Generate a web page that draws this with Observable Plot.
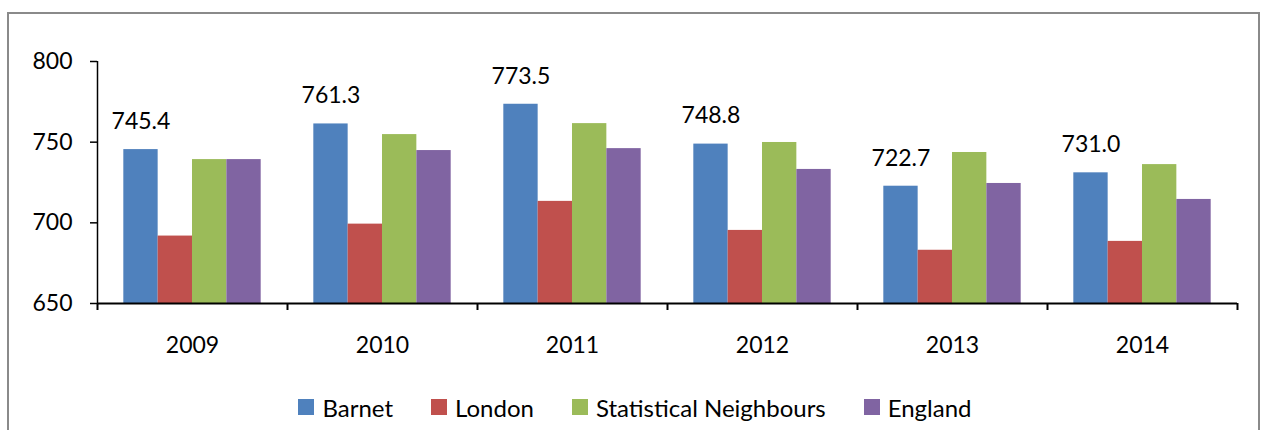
<!DOCTYPE html>
<html>
<head>
<meta charset="utf-8">
<script src="https://cdn.jsdelivr.net/npm/d3@7"></script>
<script src="https://cdn.jsdelivr.net/npm/@observablehq/plot@0.6"></script>
<style>
  html, body { margin: 0; padding: 0; background: #fff; }
  #wrap { position: relative; width: 1264px; height: 430px; overflow: hidden; background: #fff; font-family: Lato, "Open Sans", sans-serif; }
  #frame { position: absolute; left: 7px; top: 12px; width: 1249px; height: 440px; border: 2px solid #8a8a8a; border-bottom: none; }
  #chart { position: absolute; left: 0; top: 0; }
  #legend { position: absolute; top: 393px; left: 0; width: 1264px; display: flex; justify-content: center; gap: 38px; padding-left: 6px; box-sizing: border-box; font-size: 24px; color: #000; }
  .item { display: flex; align-items: center; gap: 8px; height: 28px; }
  .sw { width: 16px; height: 16px; display: inline-block; }
</style>
</head>
<body>
<div id="wrap">
  <div id="frame"></div>
  <div id="chart"></div>
  <div id="legend"></div>
</div>
<script>
const years = ["2009", "2010", "2011", "2012", "2013", "2014"];
const seriesNames = ["Barnet", "London", "Statistical Neighbours", "England"];
const seriesColors = ["#4F81BD", "#C0504D", "#9BBB59", "#8064A2"];
const barnet = [745.4, 761.3, 773.5, 748.8, 722.7, 731.0];
const london = [691.8, 699.2, 713.3, 695.3, 683.0, 688.5];
const statNeighbours = [739.2, 754.7, 761.5, 749.8, 743.6, 736.1];
const england = [739.2, 744.8, 746.0, 733.1, 724.4, 714.5];
const yTicks = [650, 700, 750, 800];

const seriesValues = [barnet, london, statNeighbours, england];
const gap = 0.1385;               // outer gap inside each year slot (fraction)
const w = (1 - 2 * gap) / 4;       // bar width (fraction of year slot)

const data = [];
years.forEach((yr, i) => {
  seriesNames.forEach((s, k) => {
    data.push({year: yr, yi: i, series: s, k, value: seriesValues[k][i]});
  });
});
const barnetData = data.filter(d => d.series === "Barnet");

const plot = Plot.plot({
  width: 1264,
  height: 370,
  marginLeft: 97,
  marginRight: 27,
  marginTop: 61,
  marginBottom: 67,
  style: {fontFamily: "Lato, 'Open Sans', sans-serif", fontSize: "23px", color: "#000", background: "transparent"},
  x: {type: "linear", domain: [0, years.length], axis: null},
  y: {domain: [650, 800], axis: null},
  color: {domain: seriesNames, range: seriesColors},
  marks: [
    Plot.rectY(data, {
      x1: d => d.yi + gap + d.k * w,
      x2: d => d.yi + gap + (d.k + 1) * w,
      y1: 650,
      y2: "value",
      fill: "series"
    }),
    Plot.ruleX([0], {y1: 650, y2: 800, stroke: "#000", strokeWidth: 1.5}),
    Plot.ruleY([650], {x1: 0, x2: years.length, stroke: "#000", strokeWidth: 2}),
    Plot.axisY({ticks: yTicks, tickSize: 7, tickPadding: 18, tickFormat: d => String(d), label: null, fontSize: 23, strokeWidth: 1.5, strokeOpacity: 1}),
    Plot.axisX({ticks: d3.range(0, years.length + 1), tickSize: 7, tickFormat: () => "", label: null, strokeWidth: 2, strokeOpacity: 1}),
    Plot.text(years, {x: (d, i) => i + 0.5, y: 650, dy: 42, text: d => d, fontSize: 23}),
    Plot.text(barnetData, {
      x: d => d.yi + gap + w / 2,
      y: "value",
      dy: -28,
      text: d => d.value.toFixed(1),
      fontSize: 23
    })
  ]
});
document.getElementById("chart").appendChild(plot);

const legend = document.getElementById("legend");
seriesNames.forEach((s, k) => {
  const item = document.createElement("div");
  item.className = "item";
  const sw = document.createElement("span");
  sw.className = "sw";
  sw.style.background = seriesColors[k];
  const label = document.createElement("span");
  label.textContent = s;
  item.appendChild(sw);
  item.appendChild(label);
  legend.appendChild(item);
});
</script>
</body>
</html>
